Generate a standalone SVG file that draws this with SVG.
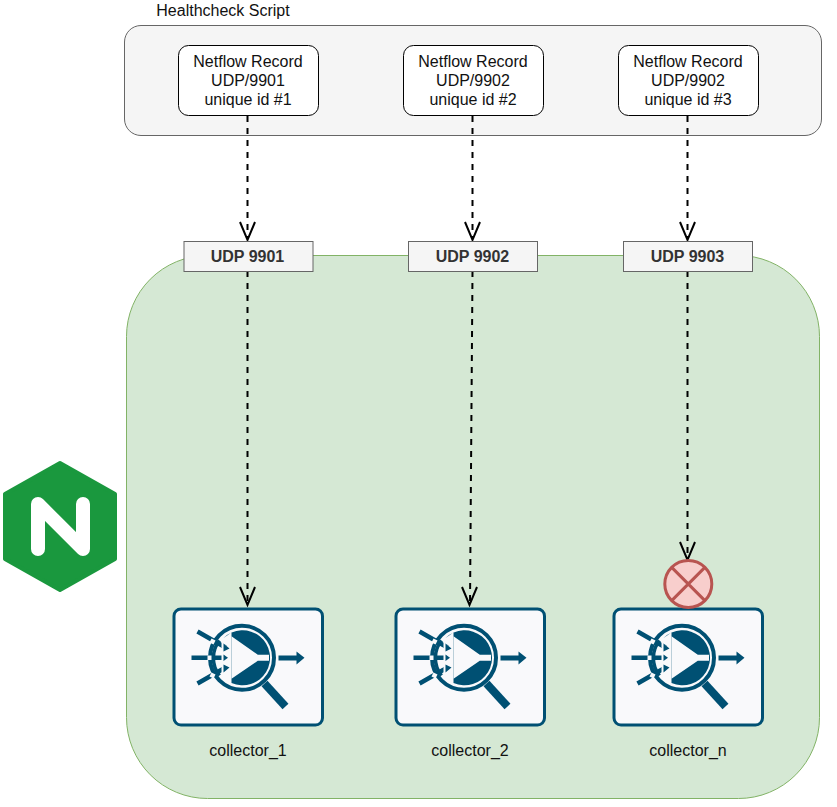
<svg xmlns="http://www.w3.org/2000/svg" width="837" height="807" viewBox="0 0 837 807">
<style>
text{font-family:"Liberation Sans",Arial,sans-serif;font-size:16px;fill:#111;text-anchor:middle}
.rec{fill:#fff;stroke:#000;stroke-width:1}
.port{fill:#f5f5f5;stroke:#666;stroke-width:1}
.port-t{font-weight:bold;fill:#333}
.conn{fill:none;stroke:#000;stroke-width:2;stroke-dasharray:6 6}
.head{fill:none;stroke:#000;stroke-width:2}
.d{stroke:#005073;fill:none}
</style>
<defs>
<g id="collector-icon">
<rect x="1.500" y="1.500" width="148.500" height="116" rx="7" fill="#f9f9fb" stroke="#005073" stroke-width="3"/>
<g transform="translate(-173,-608)">
<circle cx="242.500" cy="658.300" r="32" fill="#f9f9fb" stroke="#005073" stroke-width="4"/>
<path d="M224 638.500A27.500 27.500 0 1 1 232 683.500V633Z" fill="#005073"/>
<path d="M232 636.700V679.300L258.300 661.300H269.500V655.300H258.300Z" fill="#f9f9fb"/>
<path class="d" stroke-width="3.500" d="M220 641A28 28 0 0 0 220 676"/>
<path class="d" stroke-width="4.500" d="M198 632L226 648M192 658.300H224M198 684L226 668"/>
<path d="M222 642L231 650L222 654ZM222 653L229.500 658.300L222 663.500ZM222 675L231 667L222 663Z" fill="#f9f9fb"/>
<path d="M224 644L230 649L224 652ZM224 655L228.500 658.300L224 661.500ZM224 673L230 668L224 665Z" fill="#005073"/>
<path d="M212 639l4 2-2 4-4-2ZM208 656h4v4.500h-4ZM212 673l4 2-2 4-4-2ZM218 648h3v3h-3ZM218 665h3v3h-3Z" fill="#f9f9fb"/>
<path class="d" stroke-width="8" d="M265 684L286 707"/>
<path d="M279 656H297V652L305 658.300L297 665V661H279Z" fill="#005073"/>
</g>
</g>
</defs>
<g id="healthcheck">
<rect x="124.500" y="25.500" width="697" height="110" rx="16.500" fill="#f5f5f5" stroke="#666"/>
<text x="223" y="16">Healthcheck Script</text>
</g>
<g id="nginx-pool">
<rect x="126.500" y="255.500" width="693" height="543" rx="81" fill="#d5e8d4" stroke="#82b366"/>
</g>
<g id="nginx-logo">
<path d="M60 463L115 494V559L60 590L5 559V494Z" fill="#1a983e" stroke="#1a983e" stroke-width="4" stroke-linejoin="round"/>
<path d="M38 549V504L83 549V504" fill="none" stroke="#fff" stroke-width="14" stroke-linecap="round" stroke-linejoin="round"/>
</g>
<g id="connectors">
<path class="conn" d="M247.500 116V238"/><path class="head" d="M240 222L247.500 240L255 222"/>
<path class="conn" d="M472.500 116V238"/><path class="head" d="M465 222L472.500 240L480 222"/>
<path class="conn" d="M687.500 116V238"/><path class="head" d="M680 222L687.500 240L695 222"/>
<path class="conn" d="M247.500 271V604"/><path class="head" d="M240 587L247.500 605L255 587"/>
<path class="conn" d="M472.500 271L470 604"/><path class="head" d="M462 587L469.500 605L477 587"/>
<path class="conn" d="M687.500 271V558"/><path class="head" d="M680 542L687.500 560L695 542"/>
</g>
<g id="record-1"><rect class="rec" x="178.500" y="45.500" width="140" height="70" rx="10"/><text x="248" y="67">Netflow Record</text><text x="248" y="86">UDP/9901</text><text x="248" y="105">unique id #1</text></g>
<g id="record-2"><rect class="rec" x="403.500" y="45.500" width="140" height="70" rx="10"/><text x="473" y="67">Netflow Record</text><text x="473" y="86">UDP/9902</text><text x="473" y="105">unique id #2</text></g>
<g id="record-3"><rect class="rec" x="618.500" y="45.500" width="140" height="70" rx="10"/><text x="688" y="67">Netflow Record</text><text x="688" y="86">UDP/9902</text><text x="688" y="105">unique id #3</text></g>
<g id="port-1"><rect class="port" x="184" y="241.500" width="129" height="30"/><text class="port-t" x="247.500" y="262">UDP 9901</text></g>
<g id="port-2"><rect class="port" x="408.500" y="241.500" width="129" height="30"/><text class="port-t" x="472.500" y="262">UDP 9902</text></g>
<g id="port-3"><rect class="port" x="623.500" y="241.500" width="129" height="30"/><text class="port-t" x="687.500" y="262">UDP 9903</text></g>
<g id="collector-1"><use href="#collector-icon" x="172.500" y="607.500"/><text x="248" y="756">collector_1</text></g>
<g id="collector-2"><use href="#collector-icon" x="394.500" y="607.500"/><text x="470" y="756">collector_2</text></g>
<g id="collector-n"><use href="#collector-icon" x="612.500" y="607.500"/><text x="688" y="756">collector_n</text></g>
<g id="failure"><circle cx="688.300" cy="584" r="23.500" fill="#f8cecc" stroke="#b85450" stroke-width="3"/><path d="M671.700 567.400L704.900 600.600M704.900 567.400L671.700 600.600" stroke="#b85450" stroke-width="3"/></g>
</svg>
